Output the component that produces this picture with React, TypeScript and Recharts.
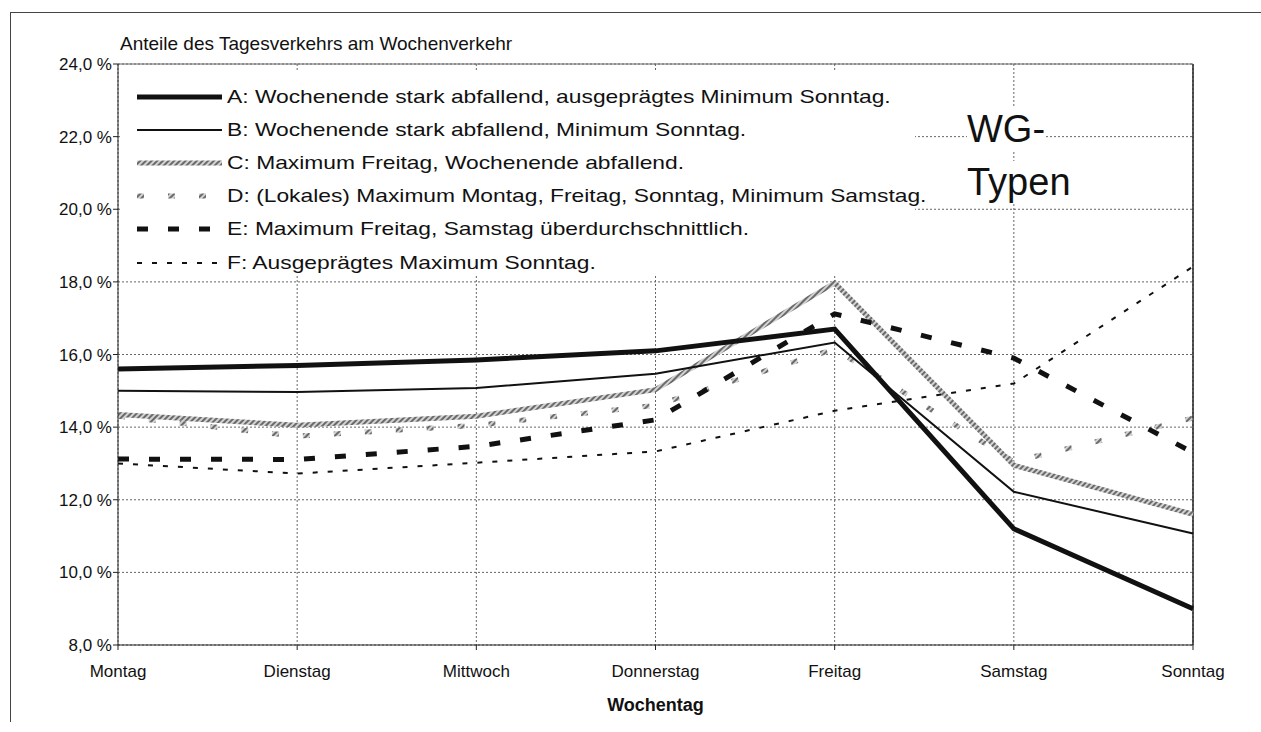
import React from 'react';
import { LineChart, Line, XAxis, YAxis, CartesianGrid, Legend, ReferenceLine } from 'recharts';

const days = ['Montag', 'Dienstag', 'Mittwoch', 'Donnerstag', 'Freitag', 'Samstag', 'Sonntag'];
const serieA = [15.6, 15.7, 15.85, 16.1, 16.7, 11.2, 9.0];
const serieB = [15.0, 14.97, 15.08, 15.47, 16.33, 12.22, 11.07];
const serieC = [14.35, 14.05, 14.3, 15.03, 17.97, 12.95, 11.6];
const serieD = [14.3, 13.75, 14.05, 14.6, 16.15, 13.05, 14.25];
const serieE = [13.12, 13.11, 13.47, 14.2, 17.12, 15.9, 13.3];
const serieF = [13.0, 12.72, 13.02, 13.33, 14.45, 15.2, 18.42];
const yTicks = [8, 10, 12, 14, 16, 18, 20, 22, 24];

const legendNames = [
  'A: Wochenende stark abfallend, ausgeprägtes Minimum Sonntag.',
  'B: Wochenende stark abfallend, Minimum Sonntag.',
  'C: Maximum Freitag, Wochenende abfallend.',
  'D: (Lokales) Maximum Montag, Freitag, Sonntag, Minimum Samstag.',
  'E: Maximum Freitag, Samstag überdurchschnittlich.',
  'F: Ausgeprägtes Maximum Sonntag.',
];

const data = days.map((d, i) => ({
  day: d,
  A: serieA[i],
  B: serieB[i],
  C: serieC[i],
  D: serieD[i],
  E: serieE[i],
  F: serieF[i],
}));

type Style = { key: string; stroke: string; width: number; dash?: string };
const styles: Style[] = [
  { key: 'A', stroke: '#111', width: 5 },
  { key: 'B', stroke: '#111', width: 2 },
  { key: 'C', stroke: 'url(#hatch)', width: 5 },
  { key: 'D', stroke: 'url(#hatch)', width: 5, dash: '7 24' },
  { key: 'E', stroke: '#111', width: 5, dash: '11 20' },
  { key: 'F', stroke: '#111', width: 2, dash: '5 10' },
];
const drawOrder = ['D', 'C', 'F', 'E', 'B', 'A'];

const FONT = '"Liberation Sans", Arial, Helvetica, sans-serif';
const fmt = (v: number) => v.toFixed(1).replace('.', ',') + ' %';

const LegendBox = () => (
  <div style={{ background: '#fff', width: 795, height: 206, paddingTop: 10, boxSizing: 'border-box', textAlign: 'left' }}>
    {styles.map((s, i) => (
      <div key={s.key} style={{ height: 33.2, display: 'flex', alignItems: 'center' }}>
        <svg width={85} height={12} style={{ marginLeft: 17, marginRight: 5, flex: 'none' }}>
          <line x1={0} y1={6} x2={85} y2={6} stroke={s.stroke} strokeWidth={s.width} strokeDasharray={s.dash} />
        </svg>
        <span
          style={{
            fontFamily: FONT,
            fontSize: 19,
            color: '#111',
            whiteSpace: 'nowrap',
            display: 'inline-block',
            transform: 'scaleX(1.2)',
            transformOrigin: 'left center',
          }}
        >
          {legendNames[i]}
        </span>
      </div>
    ))}
  </div>
);

export default function App() {
  return (
    <div style={{ position: 'absolute', left: 0, top: 0, width: 1261, height: 732, background: '#fff', fontFamily: FONT }}>
      <div style={{ position: 'absolute', left: 10, top: 12, width: 1251, height: 1, background: '#444' }} />
      <div style={{ position: 'absolute', left: 10, top: 12, width: 1, height: 710, background: '#444' }} />
      <LineChart
        width={1261}
        height={732}
        data={data}
        margin={{ top: 64, right: 68, bottom: 57, left: 0 }}
        style={{ fontFamily: FONT }}
      >
        <defs>
          <pattern id="hatch" patternUnits="userSpaceOnUse" width={4} height={4} patternTransform="rotate(45)">
            <rect width={4} height={4} fill="#d2d2d2" />
            <rect width={2} height={4} fill="#6a6a6a" />
          </pattern>
        </defs>
        <CartesianGrid stroke="#666" strokeDasharray="2 2" strokeWidth={1} />
        <XAxis
          dataKey="day"
          scale="point"
          padding={{ left: 0, right: 0 }}
          stroke="#222"
          height={30}
          tickSize={5}
          tickMargin={15}
          tick={{ fill: '#111', fontSize: 17, fontFamily: FONT }}
          interval={0}
        />
        <YAxis
          domain={[8, 24]}
          ticks={yTicks}
          width={118}
          stroke="#222"
          tickSize={5}
          tickMargin={1}
          tickFormatter={fmt}
          tick={{ fill: '#111', fontSize: 17, fontFamily: FONT }}
          interval={0}
          allowDataOverflow
        />
        <ReferenceLine x="Sonntag" stroke="#222" strokeWidth={1.5} />
        <ReferenceLine y={24} stroke="#666" strokeWidth={1} />
        <Legend
          layout="horizontal"
          verticalAlign="middle"
          align="center"
          content={() => <LegendBox />}
          wrapperStyle={{ left: 120, top: 70, width: 795, height: 206 }}
        />
        {drawOrder.map((k) => {
          const s = styles.find((x) => x.key === k)!;
          return (
            <Line
              key={k}
              type="linear"
              dataKey={k}
              name={legendNames[styles.indexOf(s)]}
              stroke={s.stroke}
              strokeWidth={s.width}
              strokeDasharray={s.dash}
              dot={false}
              activeDot={false}
              isAnimationActive={false}
              strokeLinejoin="miter"
            />
          );
        })}
      </LineChart>
      <div style={{ position: 'absolute', left: 120, top: 33, fontSize: 19, color: '#111', whiteSpace: 'nowrap' }}>
        Anteile des Tagesverkehrs am Wochenverkehr
      </div>
      <div style={{ position: 'absolute', left: 967, top: 103, fontSize: 38, lineHeight: '53px', color: '#111', whiteSpace: 'nowrap' }}>
        <span style={{ background: '#fff' }}>WG-</span>
        <br />
        <span style={{ background: '#fff' }}>Typen</span>
      </div>
      <div
        style={{
          position: 'absolute',
          left: 0,
          width: 1311,
          top: 695,
          textAlign: 'center',
          fontSize: 18,
          fontWeight: 'bold',
          color: '#111',
        }}
      >
        Wochentag
      </div>
    </div>
  );
}
